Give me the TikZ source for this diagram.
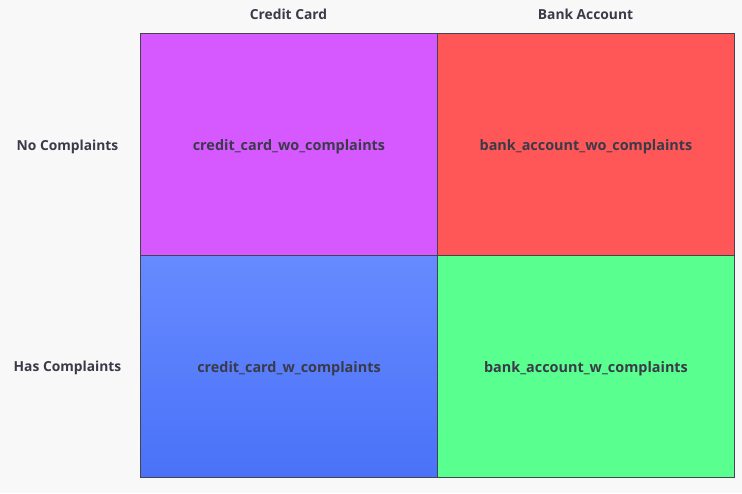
\documentclass[tikz,border=0pt]{standalone}
\usepackage{fontspec}
\setmainfont{Open Sans}
\definecolor{bg}{HTML}{F8F8F8}
\definecolor{txt}{HTML}{3A3A48}
\definecolor{edge}{HTML}{444450}
\definecolor{cpurple}{HTML}{D659FF}
\definecolor{cred}{HTML}{FF5757}
\definecolor{cbluetop}{HTML}{668AFF}
\definecolor{cbluebot}{HTML}{4A72F8}
\definecolor{cgreen}{HTML}{59FF8F}
\begin{document}
\begin{tikzpicture}[x=1pt,y=1pt,
  cell/.style={draw=edge,line width=1pt,minimum width=297pt,minimum height=221.5pt,inner sep=0pt,anchor=south west},
  lab/.style={font=\bfseries\fontsize{13.8}{16}\selectfont,text=txt},
  celllab/.style={font=\bfseries\fontsize{14.4}{17}\selectfont,text=txt}]
\fill[bg] (0,0) rectangle (742,493);
\useasboundingbox (0,0) rectangle (742,493);
\node[cell,fill=cpurple] (a) at (140,237) {};
\node[cell,fill=cred] (b) at (437,237) {};
\node[cell,top color=cbluetop,bottom color=cbluebot] (c) at (140,15) {};
\node[cell,fill=cgreen] (d) at (437,15) {};
\node[celllab] (ta) at ([yshift=-2.5pt]a.center) {credit\_card\_wo\_complaints};
\node[celllab] (tb) at ([yshift=-2.5pt]b.center) {bank\_account\_wo\_complaints};
\node[celllab] (tc) at ([yshift=-2.5pt]c.center) {credit\_card\_w\_complaints};
\node[celllab] (td) at ([yshift=-2.5pt]d.center) {bank\_account\_w\_complaints};
\node[lab] (h1) at (288.5,478.5) {Credit Card};
\node[lab] (h2) at (585.5,478.5) {Bank Account};
\node[lab] (r1) at (67.5,346) {No Complaints};
\node[lab] (r2) at (67.5,125) {Has Complaints};
\end{tikzpicture}
\end{document}
